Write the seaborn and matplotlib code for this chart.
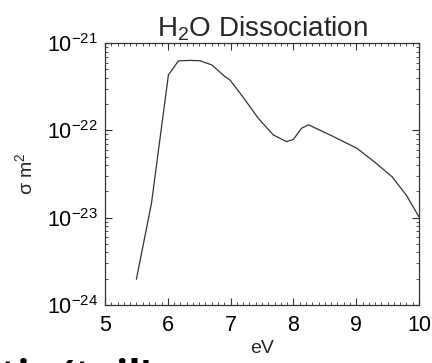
import numpy as np
import pandas as pd
import seaborn as sns
import matplotlib
matplotlib.use('Agg')
import matplotlib.pyplot as plt
from matplotlib.ticker import MultipleLocator, LogLocator

# values (eV vs cross section in m^2)
ev = [5.50, 5.74, 6.01, 6.17, 6.35, 6.51, 6.70, 6.91, 6.99, 7.20,
      7.44, 7.68, 7.89, 8.00, 8.13, 8.24, 8.58, 9.01, 9.30, 9.57, 9.80, 10.0]
sigma = [1.97e-24, 1.46e-23, 4.33e-22, 6.27e-22, 6.35e-22, 6.3e-22, 5.64e-22,
         4.14e-22, 3.79e-22, 2.4e-22, 1.38e-22, 8.88e-23, 7.44e-23, 7.9e-23,
         1.06e-22, 1.16e-22, 8.9e-23, 6.25e-23, 4.3e-23, 2.95e-23, 1.8e-23, 1.02e-23]

df = pd.DataFrame({'eV': ev, 'sigma': sigma})

sns.set_style('ticks')
plt.rcParams['font.family'] = ['Liberation Sans', 'DejaVu Sans']
plt.rcParams['mathtext.default'] = 'regular'

fig = plt.figure(figsize=(4.32, 3.63), dpi=100)
ax = fig.add_axes([0.243, 0.160, 0.727, 0.721])

sns.lineplot(data=df, x='eV', y='sigma', ax=ax, color='#333333', linewidth=0.9)

ax.set_yscale('log')
ax.set_xlim(5, 10)
ax.set_ylim(1e-24, 1e-21)
ax.xaxis.set_major_locator(MultipleLocator(1))
ax.xaxis.set_minor_locator(MultipleLocator(0.1))
ax.yaxis.set_major_locator(LogLocator(base=10, numticks=10))
ax.yaxis.set_minor_locator(LogLocator(base=10, subs=np.arange(2, 10), numticks=20))

ax.tick_params(which='both', direction='in', top=True, right=True, colors='#333333')
ax.tick_params(which='major', length=5, width=0.8, labelsize=15.5, labelcolor='black')
ax.tick_params(which='minor', length=2.5, width=0.6)
ax.tick_params(axis='x', which='major', pad=7)
ax.tick_params(axis='y', which='major', pad=5)
for s in ax.spines.values():
    s.set_linewidth(0.9)
    s.set_color('#333333')

ax.set_title('H$_2$O Dissociation', fontsize=20, pad=3)
ax.set_xlabel('eV', fontsize=14, labelpad=3)
ax.set_ylabel('σ m$^2$', fontsize=14, labelpad=8)

# cropped slide text at the bottom edge
fig.text(0.0, -0.068, "tic (tail'", fontsize=29, fontweight='bold',
         family='Open Sans', color='black')

fig.savefig('out.png', dpi=100)
